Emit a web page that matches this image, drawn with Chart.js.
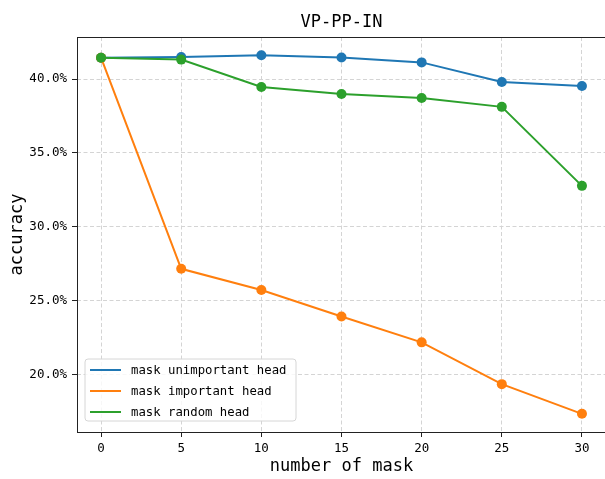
<!DOCTYPE html>
<html>
<head>
<meta charset="utf-8">
<script src="https://cdn.jsdelivr.net/npm/chart.js@4/dist/chart.umd.min.js"></script>
<style>
  html, body { margin: 0; padding: 0; background: #fff; overflow: hidden; }
  #wrap { width: 606px; height: 479px; }
</style>
</head>
<body>
<div id="wrap"><canvas id="c" width="606" height="479"></canvas></div>
<script>
// ---- data ----
const masks = [0, 5, 10, 15, 20, 25, 30];
const unimportantHead = [41.45, 41.50, 41.62, 41.46, 41.13, 39.80, 39.53];
const importantHead   = [41.45, 27.15, 25.72, 23.92, 22.17, 19.34, 17.33];
const randomHead      = [41.45, 41.32, 39.46, 38.99, 38.72, 38.12, 32.77];
const seriesNames = ['mask unimportant head', 'mask important head', 'mask random head'];
const xTicks = [0, 5, 10, 15, 20, 25, 30];
const yTicks = [20, 25, 30, 35, 40];
const titleText = 'VP-PP-IN';
const xTitle = 'number of mask';
const yTitle = 'accuracy';

const colors = ['#1f77b4', '#ff7f0e', '#2ca02c'];
const FONT = "'DejaVu Sans Mono', 'Liberation Mono', monospace";

function pts(vals) { return masks.map((m, i) => ({ x: m, y: vals[i] })); }

const frameAndLegend = {
  id: 'frameAndLegend',
  afterDatasetsDraw(chart) {
    const { ctx, chartArea: a } = chart;
    ctx.save();
    // axes frame
    ctx.strokeStyle = '#222';
    ctx.lineWidth = 1;
    ctx.strokeRect(Math.round(a.left) + 0.5, Math.round(a.top) + 0.5,
                   Math.round(a.right - a.left), Math.round(a.bottom - a.top));
    // legend
    const bx = a.left + 8, bw = 211, bh = 62, by = a.bottom - 11 - bh;
    const r = 3;
    ctx.beginPath();
    ctx.moveTo(bx + r, by);
    ctx.lineTo(bx + bw - r, by); ctx.quadraticCurveTo(bx + bw, by, bx + bw, by + r);
    ctx.lineTo(bx + bw, by + bh - r); ctx.quadraticCurveTo(bx + bw, by + bh, bx + bw - r, by + bh);
    ctx.lineTo(bx + r, by + bh); ctx.quadraticCurveTo(bx, by + bh, bx, by + bh - r);
    ctx.lineTo(bx, by + r); ctx.quadraticCurveTo(bx, by, bx + r, by);
    ctx.closePath();
    ctx.fillStyle = 'rgba(255,255,255,0.8)';
    ctx.fill();
    ctx.strokeStyle = '#d6d6d6';
    ctx.lineWidth = 1;
    ctx.stroke();
    ctx.font = '12.3px ' + FONT;
    ctx.textBaseline = 'middle';
    ctx.textAlign = 'left';
    seriesNames.forEach((name, i) => {
      const y = by + 11 + i * 21;
      ctx.strokeStyle = colors[i];
      ctx.lineWidth = 2;
      ctx.beginPath();
      ctx.moveTo(bx + 5, y);
      ctx.lineTo(bx + 36, y);
      ctx.stroke();
      ctx.fillStyle = '#000';
      ctx.fillText(name, bx + 46, y + 0.5);
    });
    ctx.restore();
  }
};

const seriesData = [unimportantHead, importantHead, randomHead];
new Chart(document.getElementById('c'), {
  type: 'line',
  data: {
    datasets: seriesData.map((vals, i) => ({
      label: seriesNames[i],
      data: pts(vals),
      borderColor: colors[i],
      backgroundColor: colors[i],
      pointBackgroundColor: colors[i],
      pointBorderWidth: 0,
      pointRadius: 5,
      borderWidth: 2,
      tension: 0,
      fill: false,
      order: 3 - i
    }))
  },
  options: {
    responsive: false,
    animation: false,
    devicePixelRatio: 1,
    layout: { padding: 0, autoPadding: false },
    plugins: {
      legend: { display: false },
      tooltip: { enabled: false },
      title: {
        display: true,
        text: titleText,
        fullSize: false,
        color: '#000',
        font: { family: FONT, size: 17, weight: 'normal', lineHeight: 1.2 },
        padding: { top: 12, bottom: 4.6 }
      }
    },
    scales: {
      x: {
        type: 'linear',
        min: -1.5,
        max: 31.5,
        afterFit: s => { s.height = 47; },
        afterBuildTicks: s => { s.ticks = xTicks.map(v => ({ value: v })); },
        ticks: {
          color: '#000',
          padding: 4,
          maxRotation: 0,
          font: { family: FONT, size: 12.5 },
          callback: v => String(v)
        },
        grid: {
          color: '#d4d4d4',
          lineWidth: 1,
          tickLength: 5,
          tickColor: '#222',
          tickWidth: 1,
          tickBorderDash: [1, 0]
        },
        border: { display: false, dash: [4, 2.5] },
        title: {
          display: true,
          text: xTitle,
          color: '#000',
          font: { family: FONT, size: 17, lineHeight: 1.2 },
          padding: { top: 0, bottom: 2 }
        }
      },
      y: {
        type: 'linear',
        min: 16.1,
        max: 42.85,
        afterFit: s => { s.width = 77; },
        afterBuildTicks: s => { s.ticks = yTicks.map(v => ({ value: v })); },
        ticks: {
          color: '#000',
          padding: 5,
          font: { family: FONT, size: 12.5 },
          callback: v => Number(v).toFixed(1) + '%'
        },
        grid: {
          color: '#d4d4d4',
          lineWidth: 1,
          tickLength: 5,
          tickColor: '#222',
          tickWidth: 1,
          tickBorderDash: [1, 0]
        },
        border: { display: false, dash: [4, 2.5] },
        title: {
          display: true,
          text: yTitle,
          color: '#000',
          font: { family: FONT, size: 17, lineHeight: 1.2 },
          padding: { top: 7, bottom: 0 }
        }
      }
    }
  },
  plugins: [frameAndLegend]
});
</script>
</body>
</html>
